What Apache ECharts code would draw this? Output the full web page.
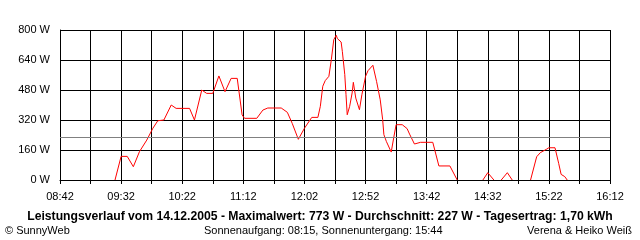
<!DOCTYPE html>
<html>
<head>
<meta charset="utf-8">
<script src="https://cdn.jsdelivr.net/npm/echarts@6/dist/echarts.min.js"></script>
<style>
html,body{margin:0;padding:0;background:#fff;}
#chart{width:640px;height:240px;}
</style>
</head>
<body>
<div id="chart"></div>
<script>
// Clock times (HH:MM) and power values in W; null marks a gap in the line
const times = [
  '09:27','09:32','09:37','09:42','09:47','09:53','09:58','10:02','10:07','10:13',
  '10:17','10:28','10:32','10:38','10:42','10:47','10:52','10:57','11:02','11:07',
  '11:11','11:13','11:23','11:28','11:32','11:43','11:48','11:52','11:57','12:02',
  '12:08','12:13','12:15','12:17','12:19','12:22','12:24','12:26','12:28','12:29',
  '12:32','12:33','12:35','12:36','12:37','12:39','12:41','12:42','12:44','12:47',
  '12:49','12:52','12:54','12:58','13:01','13:04','13:06','13:07','13:09','13:13',
  '13:15','13:17','13:22','13:26','13:28','13:32','13:37','13:47','13:52','14:01',
  '14:07','14:15',
  '14:28','14:32','14:37','14:40',
  '14:43','14:48','14:52','15:00',
  '15:07','15:12','15:15','15:20','15:22','15:27','15:30','15:32','15:35','15:37'
];
const watts = [
  0,126,126,71,151,213,276,316,320,400,
  382,382,320,480,462,462,555,471,542,542,
  347,329,329,373,384,384,361,302,217,276,
  334,334,393,500,530,553,642,748,772,754,
  736,686,562,455,348,393,464,521,437,375,
  455,553,583,612,526,428,322,242,206,149,
  224,295,295,274,245,192,201,201,75,75,
  0,null,
  0,39,0,null,
  0,39,0,null,
  0,124,146,164,172,172,89,30,18,0
];
const xTickLabels = ['08:42','09:32','10:22','11:12','12:02','12:52','13:42','14:32','15:22','16:12'];
const yTickValues = [0,160,320,480,640,800];
const averageW = 227;
const titleText = 'Leistungsverlauf vom 14.12.2005 - Maximalwert: 773 W - Durchschnitt: 227 W - Tagesertrag: 1,70 kWh';
const footLeft = '\u00a9 SunnyWeb';
const footCenter = 'Sonnenaufgang: 08:15, Sonnenuntergang: 15:44';
const footRight = 'Verena & Heiko Wei\u00df';

const START = 8*60+42;
function toMin(t){ const p=t.split(':'); return (+p[0])*60+(+p[1]) - START; }
const data = times.map((t,i)=>[toMin(t), watts[i]===null ? '-' : watts[i]]);
const FONT = 'Liberation Sans';

const chart = echarts.init(document.getElementById('chart'));
chart.setOption({
  animation:false,
  backgroundColor:'#ffffff',
  textStyle:{fontFamily:FONT},
  grid:{left:60,right:30,top:30,bottom:60,containLabel:false},
  title:[
    {text:titleText,left:'center',top:206,textStyle:{fontFamily:FONT,fontSize:12.2,fontWeight:'bold',color:'#000'}},
    {text:footLeft,left:0,top:220,textStyle:{fontFamily:FONT,fontSize:11,fontWeight:'normal',color:'#000'}},
    {text:footCenter,left:199,top:220,textStyle:{fontFamily:FONT,fontSize:11,fontWeight:'normal',color:'#000'}},
    {text:footRight,right:3,top:220,textStyle:{fontFamily:FONT,fontSize:11,fontWeight:'normal',color:'#000'}}
  ],
  xAxis:{
    type:'value',min:0,max:450,interval:25,
    axisLine:{show:true,lineStyle:{color:'#000',width:1}},
    axisTick:{show:true,length:4,lineStyle:{color:'#000'}},
    splitLine:{show:true,lineStyle:{color:'#000',width:1}},
    axisLabel:{margin:11,fontFamily:FONT,fontSize:11,color:'#000',
      formatter:function(v){ return v%50===0 ? xTickLabels[v/50] : ''; }}
  },
  yAxis:{
    type:'value',min:yTickValues[0],max:yTickValues[yTickValues.length-1],interval:160,
    axisLine:{show:true,lineStyle:{color:'#000'}},
    axisTick:{show:false},
    splitLine:{show:true,lineStyle:{color:'#000',width:1}},
    axisLabel:{margin:10,fontFamily:FONT,fontSize:11,color:'#000',formatter:'{value} W'}
  },
  series:[{
    type:'line',data:data,showSymbol:false,connectNulls:false,
    lineStyle:{color:'#ff0000',width:1},
    itemStyle:{color:'#ff0000'},
    markLine:{silent:true,symbol:'none',label:{show:false},
      lineStyle:{color:'#808080',type:'solid',width:1},
      data:[{yAxis:averageW}]}
  }]
});
</script>
</body>
</html>
